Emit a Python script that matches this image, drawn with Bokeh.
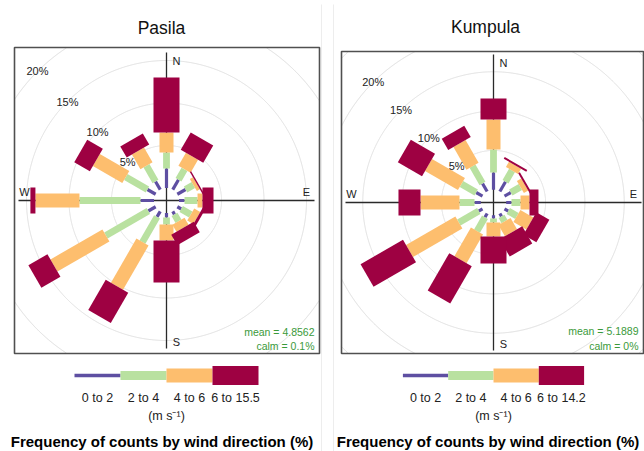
import numpy as np
from bokeh.plotting import figure
from bokeh.layouts import row
from bokeh.models import Range1d
from bokeh.embed import file_html
from bokeh.resources import INLINE
from bokeh.core.properties import value

# ---------------- data ----------------
directions = [0, 30, 60, 90, 120, 150, 180, 210, 240, 270, 300, 330]
compass = ["N", "E", "S", "W"]
ring_levels = [5, 10, 15, 20, 25, 30]
ring_label_levels = [5, 10, 15, 20]

pasila_title = "Pasila"
pasila_bin_labels = ["0 to 2", "2 to 4", "4 to 6", "6 to 15.5"]
pasila_0_2 = [2.29, 1.35, 1.12, 0.65, 0.53, 0.41, 0.53, 0.76, 1.00, 1.59, 1.12, 1.12]
pasila_2_4 = [1.89, 1.41, 1.06, 1.53, 1.29, 0.94, 0.82, 3.42, 5.76, 7.18, 2.94, 2.12]
pasila_4_6 = [2.35, 1.77, 0.41, 0.58, 0.83, 0.94, 1.89, 6.00, 7.06, 5.18, 4.00, 2.00]
pasila_6_up = [6.47, 2.35, 0.17, 1.30, 0.35, 1.42, 4.94, 4.11, 2.59, 0.59, 2.12, 1.52]
pasila_mean = "4.8562"
pasila_calm = "0.1"

kumpula_title = "Kumpula"
kumpula_bin_labels = ["0 to 2", "2 to 4", "4 to 6", "6 to 14.2"]
kumpula_0_2 = [2.20, 1.44, 0.93, 0.67, 0.55, 0.42, 0.42, 0.55, 0.55, 0.80, 0.93, 1.18]
kumpula_2_4 = [2.92, 1.65, 1.40, 1.15, 1.27, 0.76, 0.51, 2.03, 2.92, 1.91, 2.16, 2.54]
kumpula_4_6 = [3.81, 0.76, 0.63, 1.14, 1.90, 1.65, 1.78, 4.19, 7.24, 4.95, 4.83, 3.31]
kumpula_6_up = [2.67, 0.25, 0.25, 1.14, 1.91, 2.54, 3.43, 5.47, 6.23, 2.80, 3.55, 1.65]
kumpula_mean = "5.1889"
kumpula_calm = "0"

units_label = "(m s\u207b\u00b9)"
footer_label = "Frequency of counts by wind direction (%)"

# ---------------- style / layout (pixels within each panel) ----------------
BIN_COLORS = ["#5E4FA2", "#B9E1A0", "#FDBE6E", "#9E0142"]
PADDLE_PX = [3.2, 6.8, 14.0, 26.0]        # paddle widths
LEGEND_THICK = [3.5, 9.0, 14.0, 19.0]     # legend key thickness
FONT = "Liberation Sans"
GREEN = "#3A9A3A"
PANEL_W, PANEL_H = 322, 451

cfgs = [
    dict(title=pasila_title, bins=[pasila_0_2, pasila_2_4, pasila_4_6, pasila_6_up],
         labels=pasila_bin_labels, mean=pasila_mean, calm=pasila_calm,
         cx=166, cy=200, box=(14, 319, 47, 353), title_xy=(161, 27),
         scale=8.5, off_px=12.5, key_w=46, cross=148,
         mean_xy=(314, 331, 345), footer_x=161.5, divider_x=321),
    dict(title=kumpula_title, bins=[kumpula_0_2, kumpula_2_4, kumpula_4_6, kumpula_6_up],
         labels=kumpula_bin_labels, mean=kumpula_mean, calm=kumpula_calm,
         cx=171, cy=202, box=(19, 321, 51, 353), title_xy=(163, 26),
         scale=7.87, off_px=12.7, key_w=45.3, cross=148,
         mean_xy=(316, 330, 345), footer_x=165.5, divider_x=11),
]
LEG_Y, LAB_Y, UNIT_Y, FOOT_Y = 375, 397, 415, 441


def make_panel(c):
    s = c["scale"]
    cx, cy = c["cx"], c["cy"]
    X = lambda px: (px - cx) / s
    Y = lambda py: (cy - py) / s
    off = c["off_px"] / s

    p = figure(width=PANEL_W, height=PANEL_H,
               x_range=Range1d(X(0), X(PANEL_W)), y_range=Range1d(Y(PANEL_H), Y(0)),
               output_backend="svg", toolbar_location=None,
               x_axis_location=None, y_axis_location=None)
    p.grid.visible = False
    p.min_border = 0
    p.outline_line_color = None
    p.background_fill_color = "white"
    p.border_fill_color = "white"

    # faint page divider
    p.segment(x0=[X(c["divider_x"])], y0=[Y(4)], x1=[X(c["divider_x"])], y1=[Y(PANEL_H)],
              line_color="#EDEDED", line_width=1)

    # title
    p.text(x=[X(c["title_xy"][0])], y=[Y(c["title_xy"][1])], text=[c["title"]],
           text_font=value(FONT), text_font_size=value("17.5px"),
           text_align="center", text_baseline="middle", text_color="#111111")

    bl, br, bt, bb = X(c["box"][0]), X(c["box"][1]), Y(c["box"][2]), Y(c["box"][3])

    # rings clipped to the box
    th = np.radians(np.arange(0, 360.01, 0.25))
    rxs, rys = [], []
    for lv in ring_levels:
        r = off + lv
        x, y = r * np.sin(th), r * np.cos(th)
        inside = (x > bl) & (x < br) & (y > bb) & (y < bt)
        idx = np.where(inside)[0]
        if len(idx) == 0:
            continue
        runs = np.split(idx, np.where(np.diff(idx) > 1)[0] + 1)
        for run in runs:
            if len(run) > 1:
                rxs.append(list(x[run]))
                rys.append(list(y[run]))
    p.multi_line(xs=rxs, ys=rys, line_color="#DEDEDE", line_width=1)

    # cross-hair
    L = c["cross"] / s
    p.segment(x0=[0, max(-L, bl)], y0=[max(-L, bb), 0], x1=[0, min(L, br)], y1=[min(L, bt), 0],
              line_color="#2A2A2A", line_width=1.3)

    # paddles
    t = np.radians(directions)
    ux, uy = np.sin(t), np.cos(t)
    tx, ty = np.cos(t), -np.sin(t)
    cum = np.zeros(len(directions))
    for i, vals in enumerate(c["bins"]):
        lo = cum.copy()
        cum = cum + np.array(vals)
        r1 = off + lo
        r2 = off + cum
        w = PADDLE_PX[i] / 2 / s
        xs, ys = [], []
        for k in range(len(directions)):
            xs.append([r1[k] * ux[k] - w * tx[k], r1[k] * ux[k] + w * tx[k],
                       r2[k] * ux[k] + w * tx[k], r2[k] * ux[k] - w * tx[k]])
            ys.append([r1[k] * uy[k] - w * ty[k], r1[k] * uy[k] + w * ty[k],
                       r2[k] * uy[k] + w * ty[k], r2[k] * uy[k] - w * ty[k]])
        p.patches(xs=xs, ys=ys, fill_color=BIN_COLORS[i], line_color=None)

    # box
    p.quad(left=[bl], right=[br], bottom=[bb], top=[bt], fill_color=None,
           line_color="#505050", line_width=1.6)

    # ring labels (NW diagonal)
    lr = [off + lv for lv in ring_label_levels]
    a = np.radians(315)
    p.text(x=[r * np.sin(a) for r in lr], y=[r * np.cos(a) for r in lr],
           text=[f"{lv}%" for lv in ring_label_levels],
           text_font=value(FONT), text_font_size=value("11px"),
           text_align="center", text_baseline="middle", text_color="#222222")

    # compass labels
    R = 140 / s
    pos = {"N": (10 / s, R), "E": (R, 9 / s), "S": (10 / s, -R - 1 / s), "W": (-R - 2 / s, 9 / s)}
    p.text(x=[pos[k][0] for k in compass], y=[pos[k][1] for k in compass], text=compass,
           text_font=value(FONT), text_font_size=value("11px"),
           text_align="center", text_baseline="middle", text_color="#222222")

    # mean / calm
    mx, my1, my2 = c["mean_xy"]
    p.text(x=[X(mx), X(mx)], y=[Y(my1), Y(my2)],
           text=[f"mean = {c['mean']}", f"calm = {c['calm']}%"],
           text_font=value(FONT), text_font_size=value("10.5px"),
           text_align="right", text_baseline="middle", text_color=GREEN)

    # legend
    n = len(c["labels"])
    kw = c["key_w"]
    left0 = cx - n * kw / 2
    lefts = [left0 + i * kw for i in range(n)]
    p.hbar(y=[Y(LEG_Y)] * n, left=[X(l) for l in lefts], right=[X(l + kw) for l in lefts],
           height=[h / s for h in LEGEND_THICK], fill_color=BIN_COLORS, line_color=None)
    p.text(x=[X(l + kw / 2) for l in lefts], y=[Y(LAB_Y)] * n, text=c["labels"],
           text_font=value(FONT), text_font_size=value("12.5px"),
           text_align="center", text_baseline="middle", text_color="#222222")
    p.text(x=[X(cx)], y=[Y(UNIT_Y)], text=[units_label],
           text_font=value(FONT), text_font_size=value("12.5px"),
           text_align="center", text_baseline="middle", text_color="#222222")
    p.text(x=[X(c["footer_x"])], y=[Y(FOOT_Y)], text=[footer_label],
           text_font=value(FONT), text_font_size=value("15px"), text_font_style="bold",
           text_align="center", text_baseline="middle", text_color="#000000")
    return p


layout = row(*[make_panel(c) for c in cfgs], spacing=0)

open("out.html", "w").write(file_html(layout, INLINE))
